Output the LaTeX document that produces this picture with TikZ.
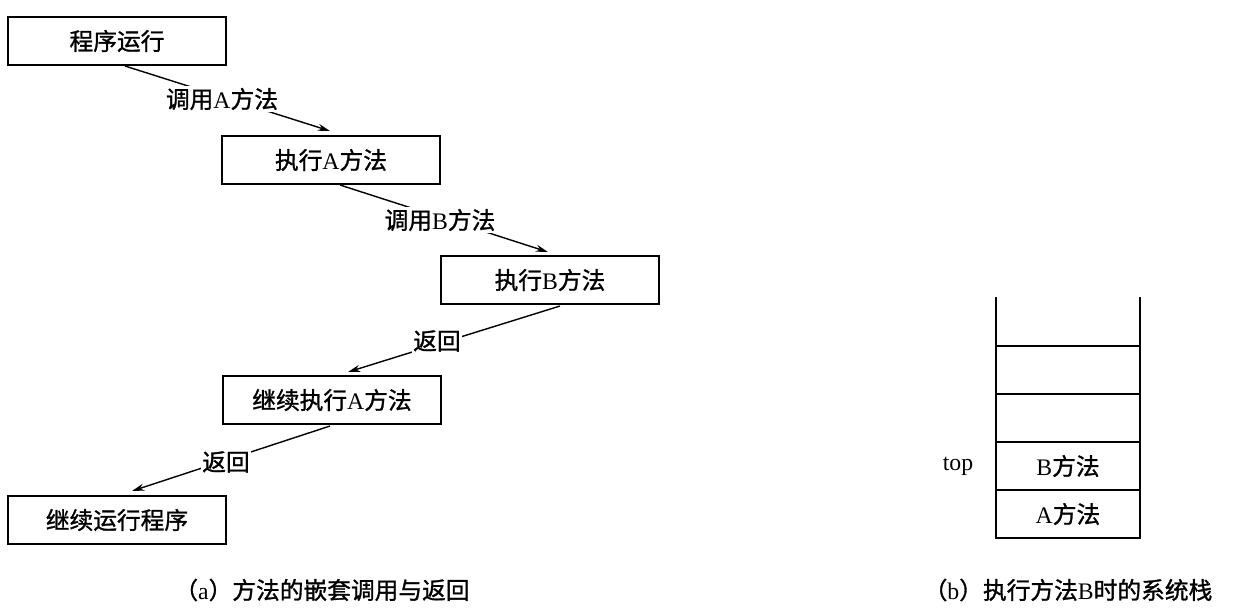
\documentclass[tikz,border=0pt]{standalone}
\usepackage{fontspec}
\usetikzlibrary{arrows.meta}
\setmainfont{Liberation Serif}
\newfontfamily\cjk[FakeBold=1.2]{Noto Sans CJK SC}
\begin{document}
\begin{tikzpicture}[x=0.02cm,y=-0.02cm,
  every node/.style={font=\fontsize{13.5}{15}\selectfont},
  box/.style={draw,thick,minimum width=218*0.02cm,minimum height=48*0.02cm,inner sep=0pt},
  lab/.style={fill=white,inner sep=1pt},
  arr/.style={thick,-{Stealth[length=7pt,width=4pt]}}]
\useasboundingbox (0,0) rectangle (1242,610);
\node[box] (r) at (117,41) {\cjk 程序运行};
\node[box] (ea) at (331,160) {{\cjk 执行}A{\cjk 方法}};
\node[box] (eb) at (550,280) {{\cjk 执行}B{\cjk 方法}};
\node[box] (ca) at (332,400) {{\cjk 继续执行}A{\cjk 方法}};
\node[box] (cr) at (117,520) {\cjk 继续运行程序};
\coordinate (p1) at (125,66); \coordinate (q1) at (330,131);
\coordinate (p2) at (340,185); \coordinate (q2) at (548,252);
\coordinate (p3) at (560,306); \coordinate (q3) at (348,372);
\coordinate (p4) at (330,426); \coordinate (q4) at (132,491);
\draw[arr] (p1) -- (q1); \node[lab] (l1) at (222,99) {{\cjk 调用}A{\cjk 方法}};
\draw[arr] (p2) -- (q2); \node[lab] (l2) at (440,220) {{\cjk 调用}B{\cjk 方法}};
\draw[arr] (p3) -- (q3); \node[lab] (l3) at (437,341) {\cjk 返回};
\draw[arr] (p4) -- (q4); \node[lab] (l4) at (226,462) {\cjk 返回};
% stack
\draw[thick] (996,297) -- (996,538) -- (1140,538) -- (1140,297);
\foreach \y in {346,394,442,490} \draw[thick] (996,\y) -- (1140,\y);
\node (sb) at (1068,466) {B{\cjk 方法}};
\node (sa) at (1068,514) {A{\cjk 方法}};
\node (top) at (958,466) {top};
\node (capa) at (322,590) {{\cjk （}a{\cjk ）方法的嵌套调用与返回}};
\node (capb) at (1068,590) {{\cjk （}b{\cjk ）执行方法}B{\cjk 时的系统栈}};
\end{tikzpicture}
\end{document}
